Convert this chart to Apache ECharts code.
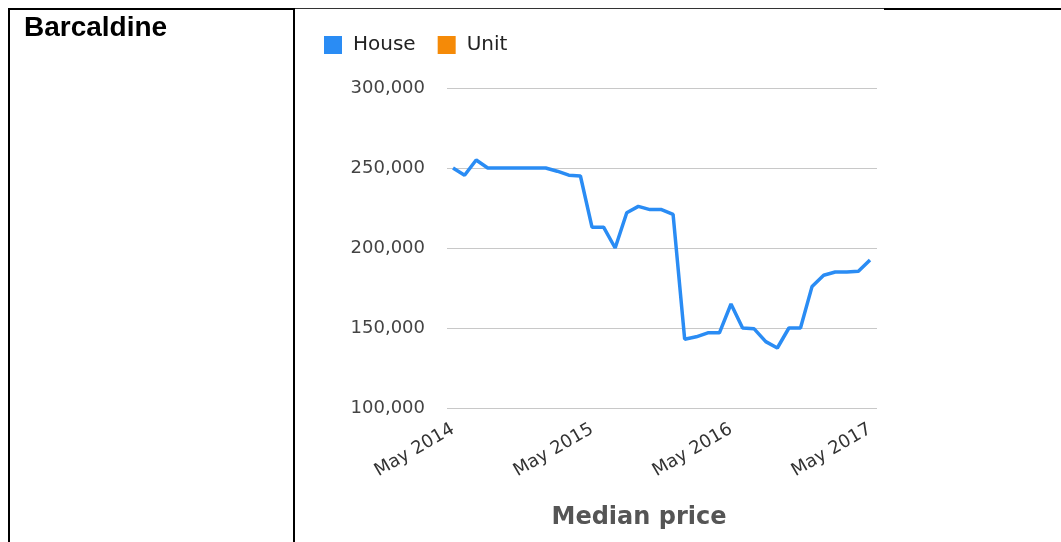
<!DOCTYPE html>
<html>
<head>
<meta charset="utf-8">
<script src="https://cdn.jsdelivr.net/npm/echarts@6/dist/echarts.min.js"></script>
<style>
  html, body { margin: 0; padding: 0; background: #fff; }
  #wrap { position: relative; width: 1061px; height: 542px; overflow: hidden; }
  #chart { position: absolute; left: 0; top: 0; width: 1061px; height: 542px; }
  .bd { position: absolute; background: #000; }
  #town { position: absolute; left: 24px; top: 13px; font: bold 28px/28px "Liberation Sans", Arial, sans-serif; color: #000; }
</style>
</head>
<body>
<div id="wrap">
  <div id="chart"></div>
  <!-- table borders -->
  <div class="bd" style="left:8px;top:8px;width:2px;height:534px"></div>
  <div class="bd" style="left:293px;top:8px;width:2px;height:534px"></div>
  <div class="bd" style="left:8px;top:8px;width:287px;height:2px"></div>
  <div class="bd" style="left:295px;top:8px;width:589px;height:1px;background:#333"></div>
  <div class="bd" style="left:884px;top:8px;width:177px;height:2px"></div>
  <div id="town">Barcaldine</div>
</div>
<script>
// monthly median price, May 2014 .. May 2017
var months = [
  "May 2014", "Jun 2014", "Jul 2014", "Aug 2014", "Sep 2014", "Oct 2014", "Nov 2014", "Dec 2014",
  "Jan 2015", "Feb 2015", "Mar 2015", "Apr 2015", "May 2015", "Jun 2015", "Jul 2015", "Aug 2015",
  "Sep 2015", "Oct 2015", "Nov 2015", "Dec 2015", "Jan 2016", "Feb 2016", "Mar 2016", "Apr 2016",
  "May 2016", "Jun 2016", "Jul 2016", "Aug 2016", "Sep 2016", "Oct 2016", "Nov 2016", "Dec 2016",
  "Jan 2017", "Feb 2017", "Mar 2017", "Apr 2017", "May 2017"
];
var house = [
  250000, 245500, 255000, 250000, 250000, 250000, 250000, 250000,
  250000, 248000, 245500, 245000, 213000, 213000, 200000, 222000,
  226000, 224000, 224000, 221000, 143000, 144500, 147000, 147000,
  165000, 150000, 149500, 141500, 137500, 150000, 150000, 176000,
  183000, 185000, 185000, 185500, 192500
];
var unit = [];
var yTicks = [100000, 150000, 200000, 250000, 300000];

var font = '"DejaVu Sans", Verdana, sans-serif';
var blue = "#2a8cf4";
var orange = "#f58a07";

var chart = echarts.init(document.getElementById("chart"));
chart.setOption({
  animation: false,
  title: {
    text: "Median price",
    left: 634,
    top: 501,
    textAlign: "center",
    textStyle: { fontFamily: font, fontSize: 24, fontWeight: "bold", color: "#555" }
  },
  legend: {
    left: 324,
    top: 35,
    padding: 0,
    icon: "rect",
    itemWidth: 18,
    itemHeight: 18,
    itemGap: 22,
    textStyle: { fontFamily: font, fontSize: 20, color: "#222", padding: [0, 0, 0, 6] },
    data: ["House", "Unit"]
  },
  grid: [
    // gridlines + y labels
    { left: 447, right: 184, top: 88, bottom: 134 },
    // the line itself, inset a little like the original
    { left: 453, right: 191, top: 88, bottom: 134 }
  ],
  xAxis: [
    { gridIndex: 0, type: "value", min: 0, max: 1, show: false },
    {
      gridIndex: 1,
      type: "category",
      boundaryGap: false,
      data: months,
      axisLine: { show: false },
      axisTick: { show: false },
      axisLabel: {
        interval: 11,
        rotate: 30,
        margin: 20,
        fontFamily: font,
        fontSize: 18,
        color: "#333"
      }
    }
  ],
  yAxis: [
    {
      gridIndex: 0,
      type: "value",
      min: yTicks[0],
      max: yTicks[yTicks.length - 1],
      interval: 50000,
      axisLine: { show: false },
      axisTick: { show: false },
      splitLine: { lineStyle: { color: "#c8c8c8", width: 1 } },
      axisLabel: {
        margin: 22,
        fontFamily: font,
        fontSize: 18,
        color: "#444",
        formatter: function (v) { return v.toLocaleString("en-US"); }
      }
    },
    {
      gridIndex: 1,
      type: "value",
      min: yTicks[0],
      max: yTicks[yTicks.length - 1],
      show: false
    }
  ],
  series: [
    {
      name: "House",
      type: "line",
      xAxisIndex: 1,
      yAxisIndex: 1,
      data: house,
      symbol: "none",
      color: blue,
      lineStyle: { color: blue, width: 3.5 }
    },
    {
      name: "Unit",
      type: "line",
      xAxisIndex: 1,
      yAxisIndex: 1,
      data: unit,
      symbol: "none",
      color: orange,
      lineStyle: { color: orange, width: 3.5 }
    }
  ]
});
</script>
</body>
</html>
